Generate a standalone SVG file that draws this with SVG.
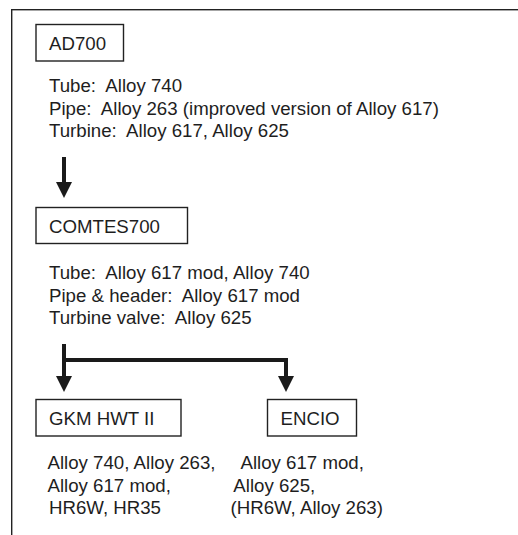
<svg xmlns="http://www.w3.org/2000/svg" width="518" height="535" viewBox="0 0 518 535">
<defs>
<style>
text{font-family:"Liberation Sans",Arial,sans-serif;font-size:18.67px;fill:#1e1e1e;white-space:pre}
.box{fill:#fff;stroke:#222;stroke-width:1.4}
.frame{fill:#fff;stroke:#222;stroke-width:1.4}
.conn{fill:none;stroke:#1a1a1a;stroke-width:4}
.head{fill:#1a1a1a;stroke:none}
</style>
</defs>
<rect class="frame" x="11.7" y="9.7" width="520" height="540"/>
<g id="ad700">
<rect class="box" x="36" y="24.5" width="87.5" height="36.5"/>
<text x="49" y="50">AD700</text>
<text x="49" y="91.5" xml:space="preserve">Tube:  Alloy 740</text>
<text x="49" y="114.5" xml:space="preserve">Pipe:  Alloy 263 (improved version of Alloy 617)</text>
<text x="49" y="137" xml:space="preserve">Turbine:  Alloy 617, Alloy 625</text>
</g>
<g id="comtes700">
<rect class="box" x="36" y="207.5" width="151.5" height="36"/>
<text x="49" y="233">COMTES700</text>
<text x="49" y="279" xml:space="preserve">Tube:  Alloy 617 mod, Alloy 740</text>
<text x="49" y="301.5" xml:space="preserve">Pipe &amp; header:  Alloy 617 mod</text>
<text x="49" y="324" xml:space="preserve">Turbine valve:  Alloy 625</text>
</g>
<g id="gkm">
<rect class="box" x="36" y="399.5" width="145" height="36.5"/>
<text x="49" y="425">GKM HWT II</text>
<text x="47.5" y="468.5">Alloy 740, Alloy 263,</text>
<text x="47.5" y="491.5">Alloy 617 mod,</text>
<text x="49" y="514">HR6W, HR35</text>
</g>
<g id="encio">
<rect class="box" x="267.5" y="399.5" width="89" height="36.5"/>
<text x="280.5" y="425">ENCIO</text>
<text x="240.5" y="468.5">Alloy 617 mod,</text>
<text x="233.3" y="491.5">Alloy 625,</text>
<text x="230.5" y="514">(HR6W, Alloy 263)</text>
</g>
<g id="connectors">
<path class="conn" d="M64,157 V184"/>
<polygon class="head" points="56,182 72,182 64,198"/>
<path class="conn" d="M64,344 V378 M64,360 H286 V378"/>
<polygon class="head" points="56,376 72,376 64,392"/>
<polygon class="head" points="278,376 294,376 286,392"/>
</g>
</svg>
